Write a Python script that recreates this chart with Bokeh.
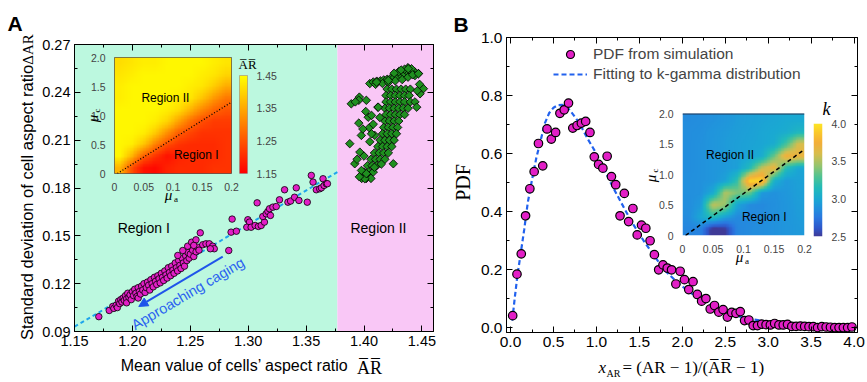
import numpy as np
from bokeh.plotting import figure
from bokeh.layouts import row
from bokeh.models import (Range1d, LinearAxis, FixedTicker, NumeralTickFormatter,
                          CustomJSTickFormatter, BoxAnnotation, Label, Arrow, NormalHead,
                          LinearColorMapper, Legend, LegendItem, Span)
from bokeh.embed import file_html
from bokeh.resources import INLINE

SANS = "Liberation Sans"
SERIF = "Liberation Serif"
MAGENTA = "#e21fc6"
GREEN = "#1f8f1f"
BLUE = "#1f55ea"
TOP, BOTTOM = 44, 51   # common top / bottom borders of every figure in the row
PAGE_H = 382

# ---------------- Panel A data ----------------
region_edges = [1.15, 1.377, 1.46]
region_colors = ["#bcf8df", "#f9c7f6"]
fitA_x = [1.15, 1.377]
fitA_y = [0.093, 0.190]

mag_pts = [
    (1.171, 0.0993), (1.180, 0.1032), (1.183, 0.1057), (1.184, 0.1045), (1.186, 0.1065),
    (1.187, 0.1050), (1.188, 0.1090), (1.189, 0.1075), (1.190, 0.1100), (1.191, 0.1085),
    (1.192, 0.1110), (1.193, 0.1095), (1.194, 0.1125), (1.195, 0.1105), (1.195, 0.1080),
    (1.196, 0.1140), (1.197, 0.1115), (1.198, 0.1130), (1.199, 0.1100), (1.200, 0.1150),
    (1.201, 0.1125), (1.202, 0.1165), (1.203, 0.1140), (1.204, 0.1120), (1.205, 0.1175),
    (1.205, 0.1110), (1.206, 0.1150), (1.207, 0.1135), (1.208, 0.1185), (1.209, 0.1160),
    (1.210, 0.1200), (1.211, 0.1145), (1.212, 0.1175), (1.213, 0.1210), (1.214, 0.1190),
    (1.215, 0.1160), (1.216, 0.1225), (1.217, 0.1200), (1.218, 0.1180), (1.219, 0.1240),
    (1.220, 0.1215), (1.221, 0.1195), (1.222, 0.1250), (1.223, 0.1230), (1.224, 0.1205),
    (1.225, 0.1265), (1.226, 0.1240), (1.227, 0.1220), (1.228, 0.1280), (1.229, 0.1255),
    (1.230, 0.1235), (1.231, 0.1300), (1.232, 0.1270), (1.233, 0.1250), (1.234, 0.1310),
    (1.235, 0.1285), (1.236, 0.1265), (1.237, 0.1330), (1.238, 0.1300), (1.239, 0.1280),
    (1.240, 0.1345), (1.241, 0.1315), (1.242, 0.1295), (1.243, 0.1360), (1.244, 0.1330),
    (1.245, 0.1310), (1.246, 0.1375), (1.247, 0.1345), (1.248, 0.1395), (1.249, 0.1360),
    (1.250, 0.1385), (1.252, 0.1410), (1.253, 0.1370), (1.255, 0.1400),
    (1.2392, 0.1377), (1.2435, 0.1408), (1.2477, 0.1435), (1.2511, 0.1460), (1.2549, 0.1475),
    (1.2563, 0.1429), (1.2586, 0.1519), (1.2607, 0.1444), (1.2635, 0.1450), (1.2664, 0.1450),
    (1.2693, 0.1435), (1.2707, 0.1419), (1.2673, 0.1419), (1.2575, 0.1410), (1.2530, 0.1440),
    (1.2832, 0.1408), (1.2852, 0.1523), (1.2898, 0.1529), (1.2861, 0.1605),
    (1.2997, 0.1601), (1.3011, 0.1586), (1.2988, 0.1554), (1.3025, 0.1554), (1.3060, 0.1565),
    (1.3088, 0.1559), (1.3112, 0.1565), (1.3140, 0.1586), (1.3126, 0.1621), (1.3155, 0.1638),
    (1.3170, 0.1653), (1.3184, 0.1670), (1.3213, 0.1680), (1.3242, 0.1684), (1.3192, 0.1628),
    (1.3077, 0.1707), (1.3270, 0.1726), (1.3314, 0.1789), (1.3343, 0.1711), (1.3366, 0.1718),
    (1.3400, 0.1742), (1.3415, 0.1801), (1.3438, 0.1722), (1.3510, 0.1711), (1.3545, 0.1879),
    (1.3560, 0.1837), (1.3588, 0.1789), (1.3617, 0.1795), (1.3632, 0.1801), (1.3646, 0.1858),
    (1.3655, 0.1816), (1.3675, 0.1827), (1.3684, 0.1827),
]
mag_x = [p[0] for p in mag_pts]
mag_y = [p[1] for p in mag_pts]

green_pts = [
    (1.405, 0.2455), (1.408, 0.2465), (1.411, 0.2470), (1.414, 0.2472), (1.417, 0.2478),
    (1.420, 0.2482), (1.423, 0.2488), (1.426, 0.2493), (1.429, 0.2500), (1.432, 0.2507),
    (1.435, 0.2515), (1.438, 0.2525), (1.441, 0.2532), (1.444, 0.2527), (1.447, 0.2518),
    (1.438, 0.2555), (1.435, 0.2545), (1.441, 0.2548), (1.430, 0.2530), (1.426, 0.2520),
    (1.432, 0.2540), (1.444, 0.2505), (1.410, 0.2450), (1.416, 0.2455), (1.421, 0.2462),
    (1.427, 0.2472), (1.433, 0.2480), (1.438, 0.2495), (1.442, 0.2510),
    (1.420, 0.242), (1.424, 0.242), (1.428, 0.242), (1.432, 0.242), (1.436, 0.242), (1.440, 0.242),
    (1.419, 0.238), (1.423, 0.238), (1.427, 0.238), (1.431, 0.238), (1.435, 0.238), (1.439, 0.238),
    (1.419, 0.234), (1.423, 0.234), (1.427, 0.234), (1.431, 0.234), (1.435, 0.234), (1.440, 0.234),
    (1.444, 0.234),
    (1.418, 0.230), (1.422, 0.230), (1.426, 0.230), (1.430, 0.230), (1.434, 0.230), (1.438, 0.230),
    (1.419, 0.226), (1.423, 0.226), (1.427, 0.226), (1.431, 0.226), (1.435, 0.226),
    (1.418, 0.222), (1.422, 0.222), (1.426, 0.222), (1.430, 0.222),
    (1.417, 0.218), (1.421, 0.218), (1.425, 0.218), (1.429, 0.218),
    (1.416, 0.214), (1.420, 0.214), (1.424, 0.214), (1.428, 0.214),
    (1.414, 0.210), (1.418, 0.210), (1.422, 0.210), (1.426, 0.210),
    (1.412, 0.206), (1.416, 0.206), (1.420, 0.206), (1.424, 0.206),
    (1.409, 0.202), (1.413, 0.202), (1.417, 0.202), (1.421, 0.202),
    (1.406, 0.198), (1.410, 0.198), (1.414, 0.198), (1.418, 0.198),
    (1.403, 0.194), (1.407, 0.194), (1.411, 0.194),
    (1.400, 0.190), (1.404, 0.190), (1.408, 0.190),
    (1.398, 0.186), (1.402, 0.186), (1.406, 0.186),
    (1.3877, 0.2078), (1.389, 0.2328), (1.396, 0.2370), (1.3955, 0.2350), (1.402, 0.2350),
    (1.4036, 0.2244), (1.4065, 0.2255), (1.4137, 0.2242), (1.412, 0.2307), (1.3955, 0.2207),
    (1.4045, 0.2178), (1.3977, 0.2130), (1.4093, 0.2130), (1.4065, 0.2140), (1.3964, 0.2025),
    (1.392, 0.1952), (1.3978, 0.1910), (1.4007, 0.1858), (1.4253, 0.1952), (1.4123, 0.2307),
    (1.4210, 0.2475), (1.4108, 0.2464), (1.4382, 0.2548), (1.4470, 0.2517), (1.4513, 0.2423),
    (1.4455, 0.2307), (1.4484, 0.2391), (1.448, 0.2450), (1.446, 0.2410), (1.400, 0.2000),
    (1.394, 0.1980), (1.402, 0.1890), (1.396, 0.1870), (1.405, 0.2090), (1.399, 0.2170),
    (1.408, 0.2200), (1.4015, 0.2280), (1.3925, 0.2340), (1.4090, 0.1930), (1.4150, 0.1950),
]
green_x = [p[0] for p in green_pts]
green_y = [p[1] for p in green_pts]

arrow_start = (1.278, 0.137)
arrow_end = (1.2055, 0.1057)

A_xticks = [1.15, 1.20, 1.25, 1.30, 1.35, 1.40, 1.45]
A_xminor = [1.175, 1.225, 1.275, 1.325, 1.375, 1.425]
A_yticks = [0.09, 0.12, 0.15, 0.18, 0.21, 0.24, 0.27]
A_yminor = [0.105, 0.135, 0.165, 0.195, 0.225, 0.255]

# inset A: mean aspect ratio map, rows from mu_c = 0 (bottom) to 2, columns mu_a 0 -> 0.2
heatA = [
    [1.36, 1.24, 1.17, 1.16, 1.19, 1.20, 1.20, 1.20, 1.21, 1.21],
    [1.44, 1.36, 1.26, 1.21, 1.17, 1.19, 1.20, 1.20, 1.20, 1.21],
    [1.44, 1.43, 1.38, 1.30, 1.24, 1.21, 1.20, 1.20, 1.20, 1.21],
    [1.44, 1.44, 1.43, 1.39, 1.32, 1.26, 1.23, 1.21, 1.21, 1.21],
    [1.44, 1.44, 1.44, 1.43, 1.40, 1.34, 1.28, 1.24, 1.22, 1.22],
    [1.44, 1.44, 1.44, 1.44, 1.43, 1.41, 1.36, 1.31, 1.27, 1.25],
    [1.43, 1.44, 1.44, 1.44, 1.44, 1.43, 1.42, 1.38, 1.33, 1.29],
    [1.43, 1.44, 1.44, 1.44, 1.44, 1.44, 1.43, 1.42, 1.39, 1.35],
    [1.42, 1.43, 1.44, 1.44, 1.44, 1.44, 1.44, 1.43, 1.42, 1.40],
    [1.41, 1.42, 1.43, 1.43, 1.44, 1.44, 1.44, 1.44, 1.43, 1.42],
]
insetA_line_x = [0.005, 0.2]
insetA_line_y = [0.0, 1.23]
cbA_ticks = [1.15, 1.25, 1.35, 1.45]
cbA_range = (1.15, 1.45)

# ---------------- Panel B data ----------------
pdf_x = [0.025, 0.075, 0.125, 0.175, 0.225, 0.275, 0.325, 0.375, 0.425, 0.475,
         0.525, 0.575, 0.625, 0.675, 0.725, 0.775, 0.825, 0.875, 0.925, 0.975,
         1.025, 1.075, 1.125, 1.175, 1.225, 1.275, 1.325, 1.375, 1.425, 1.475,
         1.525, 1.575, 1.625, 1.675, 1.725, 1.775, 1.825, 1.875, 1.925, 1.975,
         2.025, 2.075, 2.125, 2.175, 2.225, 2.275, 2.325, 2.375, 2.425, 2.475,
         2.525, 2.575, 2.625, 2.675, 2.725, 2.775, 2.825, 2.875, 2.925, 2.975,
         3.025, 3.075, 3.125, 3.175, 3.225, 3.275, 3.325, 3.375, 3.425, 3.475,
         3.525, 3.575, 3.625, 3.675, 3.725, 3.775, 3.825, 3.875, 3.925, 3.975]
pdf_y = [0.042, 0.185, 0.255, 0.386, 0.479, 0.538, 0.635, 0.558, 0.685, 0.650,
         0.673, 0.739, 0.751, 0.774, 0.688, 0.697, 0.705, 0.711, 0.673, 0.589,
         0.563, 0.550, 0.591, 0.521, 0.493, 0.386, 0.463, 0.366, 0.411, 0.320,
         0.354, 0.343, 0.300, 0.252, 0.200, 0.217, 0.206, 0.200, 0.151, 0.195,
         0.166, 0.132, 0.159, 0.115, 0.092, 0.101, 0.065, 0.077, 0.054, 0.063,
         0.037, 0.053, 0.050, 0.056, 0.025, 0.027, 0.008, 0.008, 0.013, 0.011,
         0.010, 0.015, 0.010, 0.010, 0.012, 0.005, 0.005, 0.006, 0.005, 0.004,
         0.004, 0.001, 0.004, 0.003, 0.002, 0.001, 0.001, 0.001, 0.001, 0.003]
fit_x = [0.02, 0.05, 0.08, 0.12, 0.16, 0.2, 0.25, 0.3, 0.35, 0.4, 0.45, 0.5, 0.55,
         0.6, 0.65, 0.7, 0.8, 0.9, 1.0, 1.1, 1.2, 1.4, 1.55, 1.7, 1.8, 1.95, 2.1,
         2.25, 2.45, 2.65, 2.8, 3.0, 3.2, 3.5, 3.8, 3.97]
fit_y = [0.025, 0.105, 0.18, 0.26, 0.34, 0.43, 0.51, 0.585, 0.645, 0.705, 0.74, 0.758,
         0.767, 0.768, 0.763, 0.746, 0.706, 0.65, 0.6, 0.54, 0.48, 0.37, 0.3, 0.237,
         0.197, 0.154, 0.12, 0.094, 0.062, 0.04, 0.03, 0.021, 0.014, 0.008, 0.004, 0.003]
B_xticks = [0.0, 0.5, 1.0, 1.5, 2.0, 2.5, 3.0, 3.5, 4.0]
B_xminor = [0.25, 0.75, 1.25, 1.75, 2.25, 2.75, 3.25, 3.75]
B_yticks = [0.0, 0.2, 0.4, 0.6, 0.8, 1.0]
B_yminor = [0.1, 0.3, 0.5, 0.7, 0.9]

# inset B: k map (rows bottom -> top)
heatB = [
    [2.82, 2.80, 2.45, 2.50, 2.82, 2.85, 2.86, 2.88, 2.90, 2.92],
    [2.85, 3.00, 3.15, 2.95, 2.84, 2.84, 2.86, 2.88, 2.90, 2.93],
    [2.86, 2.92, 3.55, 3.45, 2.98, 2.85, 2.84, 2.87, 2.90, 2.94],
    [2.87, 2.88, 3.00, 3.50, 3.40, 3.35, 2.92, 2.88, 2.91, 2.95],
    [2.87, 2.88, 2.90, 2.96, 3.20, 3.95, 3.95, 3.05, 2.92, 2.96],
    [2.86, 2.88, 2.90, 2.92, 2.95, 3.15, 3.55, 3.70, 3.15, 2.98],
    [2.86, 2.88, 2.90, 2.92, 2.95, 2.97, 3.02, 3.35, 3.75, 3.70],
    [2.86, 2.88, 2.90, 2.93, 2.95, 2.97, 2.98, 3.02, 3.25, 3.60],
    [2.86, 2.87, 2.90, 2.92, 2.94, 2.96, 2.98, 3.00, 3.02, 3.10],
    [2.85, 2.86, 2.88, 2.90, 2.93, 2.95, 2.97, 2.98, 3.00, 3.00],
]
insetB_line_x = [0.005, 0.2]
insetB_line_y = [0.0, 1.41]
cbB_ticks = [2.5, 3.0, 3.5, 4.0]
cbB_range = (2.5, 4.0)
inset_xticks = [0, 0.05, 0.1, 0.15, 0.2]
inset_yticks = [0, 0.5, 1.0, 1.5, 2.0]


def interp_palette(anchors, n=256):
    vals = [a[0] for a in anchors]
    rgb = [[int(a[1][i:i + 2], 16) for i in (1, 3, 5)] for a in anchors]
    out = []
    for t in np.linspace(vals[0], vals[-1], n):
        c = [int(round(np.interp(t, vals, [q[k] for q in rgb]))) for k in range(3)]
        out.append("#%02x%02x%02x" % tuple(c))
    return out


def smooth_display(grid, n=80):
    """Bilinear resampling of a read grid, only to display it smoothly like the original map."""
    g = np.array(grid, dtype=float)
    rows, cols = g.shape
    fc = (np.arange(n) + 0.5) / n * cols - 0.5
    fr = (np.arange(n) + 0.5) / n * rows - 0.5
    tmp = np.array([np.interp(fc, np.arange(cols), g[r]) for r in range(rows)])
    out = np.array([np.interp(fr, np.arange(rows), tmp[:, c]) for c in range(n)]).T
    return out


palA = interp_palette([(0, "#ff0000"), (1, "#ffff00")])
palB = interp_palette([(2.5, "#3f3a96"), (2.6, "#2f55c8"), (2.75, "#2a78e0"), (2.9, "#2096dc"),
                       (3.0, "#1aa9d2"), (3.15, "#22bbb8"), (3.3, "#52c391"), (3.45, "#9ac46c"),
                       (3.6, "#d8bd4c"), (3.75, "#f4ae38"), (3.9, "#fbcc2a"), (4.0, "#fde625")])

blank = CustomJSTickFormatter(code="return '';")


def style_axis(ax, size, labels=True):
    ax.axis_line_color = "black"
    ax.major_tick_in = 6
    ax.major_tick_out = 0
    ax.minor_tick_in = 3
    ax.minor_tick_out = 0
    ax.major_tick_line_color = "black"
    ax.minor_tick_line_color = "black"
    ax.major_label_text_font = SANS
    ax.major_label_text_color = "black"
    if labels:
        ax.major_label_text_font_size = size
        ax.major_label_standoff = 4
    else:
        ax.formatter = blank
        ax.major_label_text_font_size = "0px"
        ax.major_label_standoff = 0


def lab(p, x, y, text, size, font=SANS, style="normal", color="black", angle=0.0,
        align="center", baseline="middle"):
    p.add_layout(Label(x=x, y=y, text=text, text_font=font, text_font_size=size,
                       text_font_style=style, text_color=color, angle=angle,
                       text_align=align, text_baseline=baseline))


def place(left, top, kind="absolute"):
    return {"position": kind, "left": "%dpx" % left, "top": "%dpx" % top}


# ================= Panel A =================
pA = figure(width=440, height=PAGE_H, x_range=Range1d(1.15, 1.46), y_range=Range1d(0.09, 0.27),
            output_backend="svg", toolbar_location=None,
            min_border_left=74, min_border_right=7, min_border_top=TOP, min_border_bottom=BOTTOM)
pA.grid.visible = False
pA.outline_line_color = "black"
for i in range(len(region_colors)):
    pA.add_layout(BoxAnnotation(left=region_edges[i], right=region_edges[i + 1],
                                fill_color=region_colors[i], fill_alpha=1.0,
                                line_color=None, level="underlay"))
xtA = FixedTicker(ticks=A_xticks, minor_ticks=A_xminor)
ytA = FixedTicker(ticks=A_yticks, minor_ticks=A_yminor)
pA.xaxis.ticker = xtA
pA.yaxis.ticker = ytA
pA.xaxis.formatter = NumeralTickFormatter(format="0.00")
pA.yaxis.formatter = NumeralTickFormatter(format="0.00")
style_axis(pA.xaxis[0], "14.5px")
style_axis(pA.yaxis[0], "14.5px")
topA = LinearAxis(ticker=xtA)
rightA = LinearAxis(ticker=ytA)
style_axis(topA, "0px", labels=False)
style_axis(rightA, "0px", labels=False)
pA.add_layout(topA, "above")
pA.add_layout(rightA, "right")

pA.line(fitA_x, fitA_y, line_color="#1ea5ec", line_width=2, line_dash="4 3")
pA.scatter(mag_x, mag_y, size=6.5, fill_color=MAGENTA, line_color="black", line_width=0.8)
pA.scatter(green_x, green_y, marker="square", angle=np.pi / 4, size=6,
           fill_color=GREEN, line_color="black", line_width=0.8)
pA.add_layout(Arrow(end=NormalHead(size=9, fill_color=BLUE, line_color=BLUE),
                    x_start=arrow_start[0], y_start=arrow_start[1],
                    x_end=arrow_end[0], y_end=arrow_end[1],
                    line_color=BLUE, line_width=2))
lab(pA, 1.248, 0.1138, "Approaching caging", "14.5px", color="#2a62f0", angle=0.534)
lab(pA, 1.2098, 0.1546, "Region I", "14px")
lab(pA, 1.4125, 0.1546, "Region II", "14px")


def make_inset(heat, mapper, left, top, w, h):
    f = figure(width=30 + w + 10, height=TOP + h + BOTTOM,
               x_range=Range1d(0, 0.2), y_range=Range1d(0, 2),
               output_backend="svg", toolbar_location=None,
               min_border_left=30, min_border_right=10,
               min_border_top=TOP, min_border_bottom=BOTTOM,
               background_fill_alpha=0, border_fill_alpha=0,
               styles=place(left - 30, top - TOP))
    f.grid.visible = False
    f.image(image=[smooth_display(heat)], x=0, y=0, dw=0.2, dh=2.0, color_mapper=mapper)
    for ax in (f.xaxis[0], f.yaxis[0]):
        ax.axis_line_color = None
        ax.major_tick_line_color = None
        ax.minor_tick_line_color = None
        ax.major_label_text_font = SANS
        ax.major_label_text_font_size = "10.5px"
        ax.major_label_standoff = 3
    f.xaxis.ticker = FixedTicker(ticks=inset_xticks)
    f.yaxis.ticker = FixedTicker(ticks=inset_yticks)
    f.xaxis.formatter = CustomJSTickFormatter(
        code="return tick == 0 ? '0' : String(Math.round(tick*100)/100);")
    f.yaxis.formatter = CustomJSTickFormatter(code="return tick == 0 ? '0' : tick.toFixed(1);")
    return f


def make_colorbar(mapper, rng, ticks, fmt, left, top, w, h, outline):
    f = figure(width=w + 32, height=TOP + h + BOTTOM, x_range=Range1d(0, 1), y_range=Range1d(*rng),
               output_backend="svg", toolbar_location=None, x_axis_location=None,
               y_axis_location="right", min_border_left=0, min_border_right=32,
               min_border_top=TOP, min_border_bottom=BOTTOM,
               background_fill_alpha=0, border_fill_alpha=0,
               styles=place(left, top - TOP))
    f.grid.visible = False
    f.outline_line_color = outline
    ramp = np.linspace(rng[0], rng[1], 256).reshape(256, 1)
    f.image(image=[ramp], x=0, y=rng[0], dw=1, dh=rng[1] - rng[0], color_mapper=mapper)
    ax = f.yaxis[0]
    ax.ticker = FixedTicker(ticks=ticks)
    ax.formatter = NumeralTickFormatter(format=fmt)
    ax.axis_line_color = None
    ax.major_tick_line_color = None
    ax.minor_tick_line_color = None
    ax.major_label_text_font = SANS
    ax.major_label_text_font_size = "10.5px"
    ax.major_label_standoff = 3
    return f


def make_overlay(left, top, width):
    """Transparent text layer; its data coordinates are page pixels (frame = page y top+44..top+331)."""
    f = figure(width=width, height=PAGE_H,
               x_range=Range1d(left, left + width),
               y_range=Range1d(top + PAGE_H - BOTTOM, top + TOP),
               output_backend="svg", toolbar_location=None, x_axis_location=None,
               y_axis_location=None, min_border_left=0, min_border_right=0,
               min_border_top=TOP, min_border_bottom=BOTTOM, outline_line_color=None,
               background_fill_alpha=0, border_fill_alpha=0, styles=place(left, top))
    f.grid.visible = False
    return f


mapA = LinearColorMapper(palette=palA, low=1.15, high=1.45)
insA = make_inset(heatA, mapA, 114, 57, 117, 116)
insA.outline_line_color = "#555555"
insA.line(insetA_line_x, insetA_line_y, line_color="black", line_width=1.3, line_dash="1 2")
lab(insA, 0.087, 1.31, "Region II", "12px")
lab(insA, 0.1397, 0.322, "Region I", "12px")
cbA = make_colorbar(mapA, cbA_range, cbA_ticks, "0.00", 239, 75, 8, 98, "#a0a0a0")

# ================= Panel B (frame 506..857 x 37..332) =================
pB = figure(width=427, height=TOP + 295 + BOTTOM, x_range=Range1d(-0.047, 4.04),
            y_range=Range1d(-0.016, 1.0), output_backend="svg", toolbar_location=None,
            min_border_left=66, min_border_right=10, min_border_top=TOP, min_border_bottom=BOTTOM,
            styles={"position": "relative", "top": "%dpx" % (37 - TOP)})
pB.grid.visible = False
pB.outline_line_color = "black"
xtB = FixedTicker(ticks=B_xticks, minor_ticks=B_xminor)
ytB = FixedTicker(ticks=B_yticks, minor_ticks=B_yminor)
pB.xaxis.ticker = xtB
pB.yaxis.ticker = ytB
pB.xaxis.formatter = NumeralTickFormatter(format="0.0")
pB.yaxis.formatter = NumeralTickFormatter(format="0.0")
style_axis(pB.xaxis[0], "15.5px")
style_axis(pB.yaxis[0], "15.5px")
topB = LinearAxis(ticker=xtB)
rightB = LinearAxis(ticker=ytB)
style_axis(topB, "0px", labels=False)
style_axis(rightB, "0px", labels=False)
pB.add_layout(topB, "above")
pB.add_layout(rightB, "right")

r_fit = pB.line(fit_x, fit_y, line_color="#2262ee", line_width=2.2, line_dash="5 3")
r_pdf = pB.scatter(pdf_x, pdf_y, size=8.5, fill_color=MAGENTA, line_color="black", line_width=1.2)
leg = Legend(items=[LegendItem(label="PDF from simulation", renderers=[r_pdf]),
                    LegendItem(label="Fitting to k-gamma distribution", renderers=[r_fit])],
             location=(47, 248), padding=0, margin=0, spacing=0, glyph_width=34, glyph_height=20,
             label_height=20, label_standoff=6, border_line_color=None, background_fill_alpha=0,
             label_text_font=SANS, label_text_font_size="15.5px")
pB.add_layout(leg)

mapB = LinearColorMapper(palette=palB, low=2.5, high=4.0)
insB = make_inset(heatB, mapB, 682, 113, 122, 122)
insB.outline_line_color = None
insB.add_layout(Span(location=2.0, dimension="width", line_color="#1d3557", line_width=2))
insB.line(insetB_line_x, insetB_line_y, line_color="black", line_width=1.5, line_dash="4 3")
lab(insB, 0.078, 1.32, "Region II", "12px")
lab(insB, 0.134, 0.31, "Region I", "12px")
cbB = make_colorbar(mapB, cbB_range, cbB_ticks, "0.0", 813, 123, 9, 113, None)

# ================= texts outside the plot frames (page pixel positions) =================
ovT = make_overlay(0, -TOP, 867)          # covers page y 0 .. 287
lab(ovT, 7, 23, "A", "21px", style="bold", align="left", baseline="alphabetic")
lab(ovT, 453, 24, "B", "21px", style="bold", align="left", baseline="alphabetic")
lab(ovT, 27, 49, "\u0394AR", "15px", font=SERIF, angle=np.pi / 2)
lab(ovT, 462, 182, "PDF", "20px", font=SERIF, angle=np.pi / 2)
lab(ovT, 168, 194, "\u03bc", "15px", font=SERIF, style="italic")
lab(ovT, 175.5, 198, "a", "9px", font=SERIF)
lab(ovT, 92, 118, "\u03bc", "15px", font=SERIF, style="italic", angle=np.pi / 2)
lab(ovT, 96, 110, "c", "9px", font=SERIF, angle=np.pi / 2)
lab(ovT, 739, 256, "\u03bc", "15px", font=SERIF, style="italic")
lab(ovT, 746.5, 260, "a", "9px", font=SERIF)
lab(ovT, 650, 178, "\u03bc", "15px", font=SERIF, style="italic", angle=np.pi / 2)
lab(ovT, 654, 170, "c", "9px", font=SERIF, angle=np.pi / 2)
lab(ovT, 238, 64, "A\u0305R\u0305", "13px", font=SERIF, align="left")
lab(ovT, 826, 108, "k", "18px", font=SERIF, style="italic")

ovM = make_overlay(0, 10, 60)             # covers page y 54 .. 341
lab(ovM, 26, 202, "Standard deviation of cell aspect ratio", "16.5px", angle=np.pi / 2)

ovB = make_overlay(0, 52, 867)            # covers page y 96 .. 383
lab(ovB, 234, 365, "Mean value of cells\u2019 aspect ratio", "16px")
lab(ovB, 369, 367, "A\u0305R\u0305", "18px", font=SERIF)
lab(ovB, 598, 367, "x", "17px", font=SERIF, style="italic", align="left")
lab(ovB, 606, 373, "AR", "10px", font=SERIF, align="left")
lab(ovB, 622, 367, "= (AR \u2212 1)/(A\u0305R\u0305 \u2212 1)", "17px", font=SERIF, align="left")

layout = row(pA, pB, insA, cbA, insB, cbB, ovT, ovM, ovB, styles={"position": "relative"})
open("out.html", "w").write(file_html(layout, INLINE))
